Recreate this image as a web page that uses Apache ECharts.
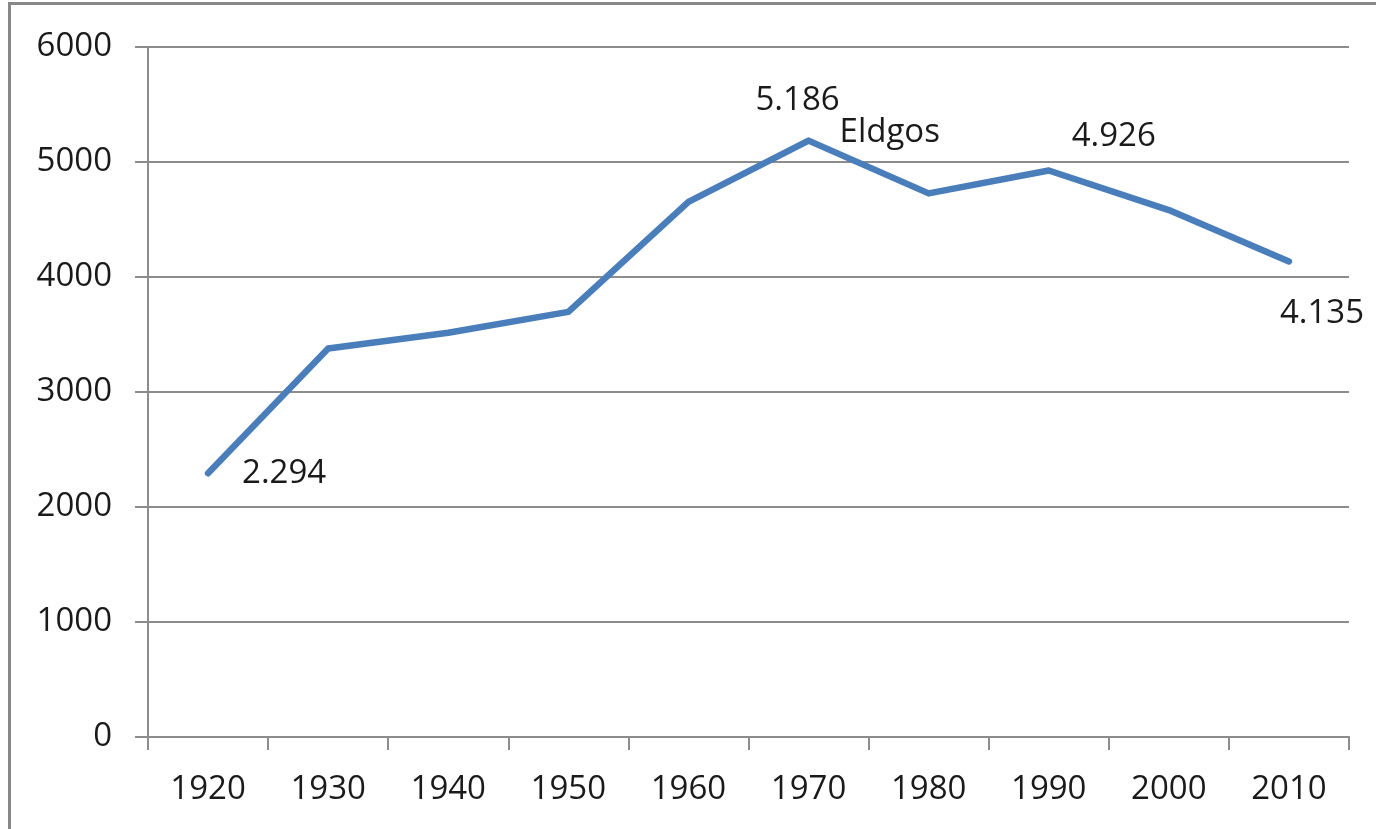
<!DOCTYPE html>
<html>
<head>
<meta charset="utf-8">
<script src="https://cdn.jsdelivr.net/npm/echarts@6/dist/echarts.min.js"></script>
<style>
  html, body { margin: 0; padding: 0; background: #fff; }
  #frame {
    position: absolute; left: 8px; top: 2px; width: 1380px; height: 840px;
    border-left: 3px solid #888; border-top: 3px solid #888;
  }
  #chart { position: absolute; left: 0; top: 0; width: 1376px; height: 829px; }
</style>
</head>
<body>
<div id="frame"></div>
<div id="chart"></div>
<script>
// Data
const years = ['1920', '1930', '1940', '1950', '1960', '1970', '1980', '1990', '2000', '2010'];
const population = [2294, 3379, 3515, 3697, 4654, 5186, 4727, 4926, 4582, 4135];
const yTicks = { min: 0, max: 6000, interval: 1000 };

// labelled points: index -> text and offset
const pointLabels = {
    0: { text: '2.294', position: 'right', offset: [8, 0] },
    5: { text: '5.186', position: 'top', offset: [-11, 2] },
    7: { text: '4.926', position: 'top', offset: [65, 9] },
    9: { text: '4.135', position: 'bottom', offset: [33, 10] }
};

const fontFamily = '"Open Sans", sans-serif';
const gray = '#8c8c8c';

const chart = echarts.init(document.getElementById('chart'));

const seriesData = population.map((v, i) => {
    const item = { value: v };
    if (pointLabels[i]) {
        item.label = {
            show: true,
            formatter: pointLabels[i].text,
            position: pointLabels[i].position,
            offset: pointLabels[i].offset,
            distance: 26
        };
    }
    return item;
});

chart.setOption({
    animation: false,
    grid: { left: 148, right: 27, top: 47, bottom: 92 },
    xAxis: {
        type: 'category',
        data: years,
        boundaryGap: true,
        axisLine: { lineStyle: { color: gray, width: 2 } },
        axisTick: { show: true, length: 13, lineStyle: { color: gray, width: 2 } },
        axisLabel: { color: '#1a1a1a', fontSize: 33, fontFamily: fontFamily, margin: 36 }
    },
    yAxis: {
        type: 'value',
        min: yTicks.min,
        max: yTicks.max,
        interval: yTicks.interval,
        axisLine: { show: true, lineStyle: { color: gray, width: 2 } },
        axisTick: { show: true, length: 13, lineStyle: { color: gray, width: 2 } },
        splitLine: { show: true, lineStyle: { color: gray, width: 2 } },
        axisLabel: {
            color: '#1a1a1a', fontSize: 33, fontFamily: fontFamily, margin: 36,
            formatter: v => String(v)
        }
    },
    series: [{
        type: 'line',
        data: seriesData,
        symbol: 'circle',
        symbolSize: 0,
        showSymbol: true,
        itemStyle: { color: '#4a7ebb' },
        lineStyle: { color: '#4a7ebb', width: 6.5, cap: 'round', join: 'round' },
        label: { show: false, color: '#1a1a1a', fontSize: 33, fontFamily: fontFamily },
        markPoint: {
            symbol: 'circle',
            symbolSize: 0,
            data: [{
                coord: ['1970', 5186],
                label: {
                    show: true,
                    formatter: 'Eldgos',
                    position: 'right',
                    offset: [26, -8],
                    color: '#1a1a1a',
                    fontSize: 33,
                    fontFamily: fontFamily
                }
            }]
        }
    }]
});
</script>
</body>
</html>
